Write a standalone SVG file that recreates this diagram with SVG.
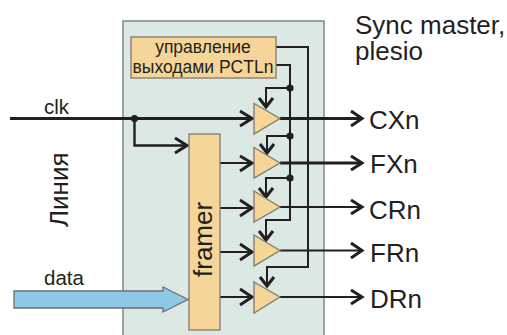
<svg xmlns="http://www.w3.org/2000/svg" width="507" height="335" viewBox="0 0 507 335">
<style>
text{font-family:"Liberation Sans",Arial,sans-serif;fill:#231f20}
.l{font-size:26px}
.c{font-size:17.5px;text-anchor:middle}
.s{font-size:20.500px}
.box{fill:#f5d698;stroke:#7f7a68;stroke-width:1.3}
.w{fill:none;stroke:#231f20;stroke-width:2}
.t{stroke-width:3}
.m{stroke-width:2.4}
.h{fill:none;stroke:#231f20;stroke-width:3}
.d{fill:#231f20}
</style>
<rect width="507" height="335" fill="#fff"/>
<rect id="panel" x="123" y="21" width="201" height="320" fill="#dce8e4" stroke="#85897f" stroke-width="1.5"/>
<g id="connectors">
<path class="w t" d="M10 118.500H252"/>
<path class="w m" d="M134.500 118.500V145.500H186"/>
<path class="w" d="M220 163H252M220 208H252M220 252H252M220 297H252"/>
<path class="w t" d="M280 118.500H362M280 163H362"/>
<path class="w" d="M280 207H362M280 250.500H362M280 297H362"/>
<path class="w" d="M276 47H308V267H267V284M276 65H290V220H266V238"/>
<path class="w" d="M290 88H266V105M290 136H267V151M290 178H266V195"/>
<path class="h" d="M240 111L252 118.500L240 126M240 156L252 163L240 171M240 200L252 208L240 216M240 244L252 252L240 260M240 289L252 297L240 305M175 138L187 145.500L175 153M351 111L362 118.500L351 126M351 156L362 163L351 170M351 200L362 207L351 214M351 243L362 250.500L351 258M351 290L362 297L351 304M259 98L266 107L273 98M260 144L267 153L274 144M259 188L266 197L273 188M259 231L266 240L273 231M260 277L267 286L274 277"/>
<circle class="d" cx="134.500" cy="118.500" r="3.600"/>
<circle class="d" cx="290" cy="88" r="3.600"/>
<circle class="d" cx="290" cy="136" r="3.600"/>
<circle class="d" cx="290" cy="178" r="3.600"/>
</g>
<g id="control"><rect class="box" x="131" y="37" width="145" height="41"/><text class="c" x="203" y="53">управление</text><text class="c" x="203" y="73">выходами PCTLn</text></g>
<g id="framer"><rect class="box" x="189" y="134" width="31" height="196"/><text class="l" transform="translate(212 277) rotate(-90)">framer</text></g>
<g id="amp1"><polygon class="box" points="254,103.500 280,118.500 254,134"/></g>
<g id="amp2"><polygon class="box" points="254,147.500 280,163 254,178"/></g>
<g id="amp3"><polygon class="box" points="254,191 280,207 254,222"/></g>
<g id="amp4"><polygon class="box" points="254,235 280,250.500 254,266"/></g>
<g id="amp5"><polygon class="box" points="254,282 280,297 254,313"/></g>
<g id="data-arrow"><polygon points="14,291 163,291 163,287 188,299.500 163,312 163,308 14,308" fill="#8ec8e4" stroke="#6b6f70" stroke-width="1.300"/></g>
<g id="labels">
<text class="s" x="44" y="114">clk</text>
<text class="s" x="44" y="285">data</text>
<text class="l" transform="translate(67.500 227) rotate(-90)">Линия</text>
<text class="l"><tspan x="355" y="33.500">Sync master,</tspan><tspan x="355" y="60">plesio</tspan></text>
<text class="l" x="369" y="129">CXn</text>
<text class="l" x="370" y="173">FXn</text>
<text class="l" x="369" y="219">CRn</text>
<text class="l" x="370" y="262">FRn</text>
<text class="l" x="370" y="308">DRn</text>
</g>
</svg>
